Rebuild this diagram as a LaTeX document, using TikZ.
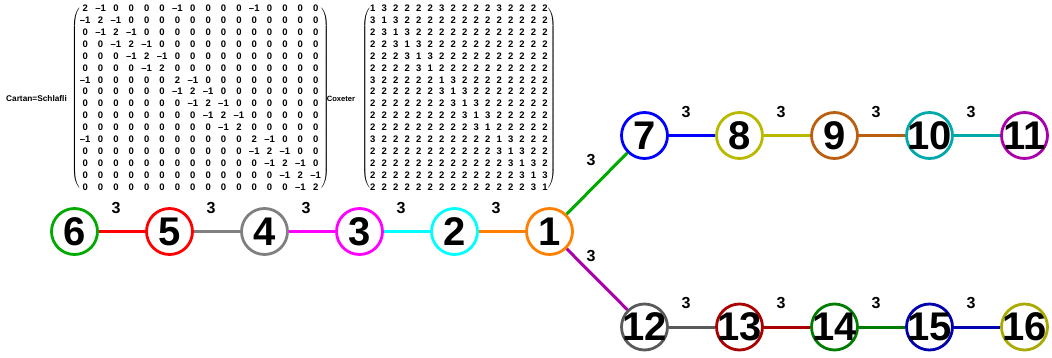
\documentclass[tikz,border=0pt]{standalone}
\usepackage{fontspec}
\setmainfont{Liberation Sans}

% ring colours of the sixteen vertices
\definecolor{c1}{RGB}{255,128,0}
\definecolor{c2}{RGB}{0,255,255}
\definecolor{c3}{RGB}{255,0,255}
\definecolor{c4}{RGB}{128,128,128}
\definecolor{c5}{RGB}{255,0,0}
\definecolor{c6}{RGB}{0,170,0}
\definecolor{c7}{RGB}{0,0,255}
\definecolor{c8}{RGB}{185,185,0}
\definecolor{c9}{RGB}{185,95,15}
\definecolor{c10}{RGB}{0,170,170}
\definecolor{c11}{RGB}{170,0,170}
\definecolor{c12}{RGB}{90,90,90}
\definecolor{c13}{RGB}{170,0,0}
\definecolor{c14}{RGB}{0,125,0}
\definecolor{c15}{RGB}{0,0,175}
\definecolor{c16}{RGB}{170,170,0}

\newcommand{\vnum}[1]{\makebox[0pt]{#1}}
\delimitershortfall=12pt

\tikzset{
	vert/.style = {draw=#1, circle, line width=2.8pt, minimum size=46pt, inner sep=0pt, fill=white,
		font=\fontsize{40}{40}\selectfont\bfseries},
	bond/.style = {draw=#1, line width=3pt},
	wt/.style   = {font=\fontsize{16}{16}\selectfont\bfseries, xshift=-6pt, yshift=23.5pt},
	mat/.style  = {inner sep=0pt, font=\fontsize{9.5}{11.9}\selectfont\bfseries},
	tag/.style  = {anchor=east, inner sep=0pt, font=\fontsize{#1}{#1}\selectfont\bfseries},
}

\begin{document}
\begin{tikzpicture}[x=1pt, y=-1pt, node distance=95pt]
	\useasboundingbox (0,0) rectangle (1052,358);

	% Cartan and Coxeter matrices
	\node[mat] (cartan) at (200.5,98.5) {\setlength\tabcolsep{2.4pt}$\left(\vcenter{\hbox{\begin{tabular}{@{}*{16}{c}@{}}
		2 & --1 & 0 & 0 & 0 & 0 & --1 & 0 & 0 & 0 & 0 & --1 & 0 & 0 & 0 & 0\\
		--1 & 2 & --1 & 0 & 0 & 0 & 0 & 0 & 0 & 0 & 0 & 0 & 0 & 0 & 0 & 0\\
		0 & --1 & 2 & --1 & 0 & 0 & 0 & 0 & 0 & 0 & 0 & 0 & 0 & 0 & 0 & 0\\
		0 & 0 & --1 & 2 & --1 & 0 & 0 & 0 & 0 & 0 & 0 & 0 & 0 & 0 & 0 & 0\\
		0 & 0 & 0 & --1 & 2 & --1 & 0 & 0 & 0 & 0 & 0 & 0 & 0 & 0 & 0 & 0\\
		0 & 0 & 0 & 0 & --1 & 2 & 0 & 0 & 0 & 0 & 0 & 0 & 0 & 0 & 0 & 0\\
		--1 & 0 & 0 & 0 & 0 & 0 & 2 & --1 & 0 & 0 & 0 & 0 & 0 & 0 & 0 & 0\\
		0 & 0 & 0 & 0 & 0 & 0 & --1 & 2 & --1 & 0 & 0 & 0 & 0 & 0 & 0 & 0\\
		0 & 0 & 0 & 0 & 0 & 0 & 0 & --1 & 2 & --1 & 0 & 0 & 0 & 0 & 0 & 0\\
		0 & 0 & 0 & 0 & 0 & 0 & 0 & 0 & --1 & 2 & --1 & 0 & 0 & 0 & 0 & 0\\
		0 & 0 & 0 & 0 & 0 & 0 & 0 & 0 & 0 & --1 & 2 & 0 & 0 & 0 & 0 & 0\\
		--1 & 0 & 0 & 0 & 0 & 0 & 0 & 0 & 0 & 0 & 0 & 2 & --1 & 0 & 0 & 0\\
		0 & 0 & 0 & 0 & 0 & 0 & 0 & 0 & 0 & 0 & 0 & --1 & 2 & --1 & 0 & 0\\
		0 & 0 & 0 & 0 & 0 & 0 & 0 & 0 & 0 & 0 & 0 & 0 & --1 & 2 & --1 & 0\\
		0 & 0 & 0 & 0 & 0 & 0 & 0 & 0 & 0 & 0 & 0 & 0 & 0 & --1 & 2 & --1\\
		0 & 0 & 0 & 0 & 0 & 0 & 0 & 0 & 0 & 0 & 0 & 0 & 0 & 0 & --1 & 2
	\end{tabular}}}\right)$};
	\node[mat] (coxeter) at (459,98.5) {\setlength\tabcolsep{3.1pt}$\left(\vcenter{\hbox{\begin{tabular}{@{}*{16}{c}@{}}
		1 & 3 & 2 & 2 & 2 & 2 & 3 & 2 & 2 & 2 & 2 & 3 & 2 & 2 & 2 & 2\\
		3 & 1 & 3 & 2 & 2 & 2 & 2 & 2 & 2 & 2 & 2 & 2 & 2 & 2 & 2 & 2\\
		2 & 3 & 1 & 3 & 2 & 2 & 2 & 2 & 2 & 2 & 2 & 2 & 2 & 2 & 2 & 2\\
		2 & 2 & 3 & 1 & 3 & 2 & 2 & 2 & 2 & 2 & 2 & 2 & 2 & 2 & 2 & 2\\
		2 & 2 & 2 & 3 & 1 & 3 & 2 & 2 & 2 & 2 & 2 & 2 & 2 & 2 & 2 & 2\\
		2 & 2 & 2 & 2 & 3 & 1 & 2 & 2 & 2 & 2 & 2 & 2 & 2 & 2 & 2 & 2\\
		3 & 2 & 2 & 2 & 2 & 2 & 1 & 3 & 2 & 2 & 2 & 2 & 2 & 2 & 2 & 2\\
		2 & 2 & 2 & 2 & 2 & 2 & 3 & 1 & 3 & 2 & 2 & 2 & 2 & 2 & 2 & 2\\
		2 & 2 & 2 & 2 & 2 & 2 & 2 & 3 & 1 & 3 & 2 & 2 & 2 & 2 & 2 & 2\\
		2 & 2 & 2 & 2 & 2 & 2 & 2 & 2 & 3 & 1 & 3 & 2 & 2 & 2 & 2 & 2\\
		2 & 2 & 2 & 2 & 2 & 2 & 2 & 2 & 2 & 3 & 1 & 2 & 2 & 2 & 2 & 2\\
		3 & 2 & 2 & 2 & 2 & 2 & 2 & 2 & 2 & 2 & 2 & 1 & 3 & 2 & 2 & 2\\
		2 & 2 & 2 & 2 & 2 & 2 & 2 & 2 & 2 & 2 & 2 & 3 & 1 & 3 & 2 & 2\\
		2 & 2 & 2 & 2 & 2 & 2 & 2 & 2 & 2 & 2 & 2 & 2 & 3 & 1 & 3 & 2\\
		2 & 2 & 2 & 2 & 2 & 2 & 2 & 2 & 2 & 2 & 2 & 2 & 2 & 3 & 1 & 3\\
		2 & 2 & 2 & 2 & 2 & 2 & 2 & 2 & 2 & 2 & 2 & 2 & 2 & 2 & 3 & 1
	\end{tabular}}}\right)$};
	\node[tag=8.3, xshift=-4pt] (cartanlbl) at (cartan.west) {Cartan=Schlafli};
	\node[tag=7.6, xshift=-6pt] (coxeterlbl) at (coxeter.west) {Coxeter};

	% Dynkin diagram: the long row, then the two branches
	\node[vert=c1] (n1) at (549.5,231.5) {\vnum{1}};
	\node[vert=c2, left of=n1] (n2) {\vnum{2}};
	\node[vert=c3, left of=n2] (n3) {\vnum{3}};
	\node[vert=c4, left of=n3] (n4) {\vnum{4}};
	\node[vert=c5, left of=n4] (n5) {\vnum{5}};
	\node[vert=c6, left of=n5] (n6) {\vnum{6}};

	\node[vert=c7, xshift=95pt, yshift=96pt] (n7) at (n1) {\vnum{7}};
	\node[vert=c8, right of=n7] (n8) {\vnum{8}};
	\node[vert=c9, right of=n8] (n9) {\vnum{9}};
	\node[vert=c10, right of=n9] (n10) {\vnum{10}};
	\node[vert=c11, right of=n10] (n11) {\vnum{11}};

	\node[vert=c12, xshift=95pt, yshift=-95.5pt] (n12) at (n1) {\vnum{12}};
	\node[vert=c13, right of=n12] (n13) {\vnum{13}};
	\node[vert=c14, right of=n13] (n14) {\vnum{14}};
	\node[vert=c15, right of=n14] (n15) {\vnum{15}};
	\node[vert=c16, right of=n15] (n16) {\vnum{16}};

	% bonds, each with its label
	\draw[bond=c5] (n6) -- node[wt] {3} (n5);
	\draw[bond=c4] (n5) -- node[wt] {3} (n4);
	\draw[bond=c3] (n4) -- node[wt] {3} (n3);
	\draw[bond=c2] (n3) -- node[wt] {3} (n2);
	\draw[bond=c1] (n2) -- node[wt] {3} (n1);
	\draw[bond=c6] (n1) -- node[wt] {3} (n7);
	\draw[bond=c11] (n1) -- node[wt] {3} (n12);
	\draw[bond=c7] (n7) -- node[wt] {3} (n8);
	\draw[bond=c8] (n8) -- node[wt] {3} (n9);
	\draw[bond=c9] (n9) -- node[wt] {3} (n10);
	\draw[bond=c10] (n10) -- node[wt] {3} (n11);
	\draw[bond=c12] (n12) -- node[wt] {3} (n13);
	\draw[bond=c13] (n13) -- node[wt] {3} (n14);
	\draw[bond=c14] (n14) -- node[wt] {3} (n15);
	\draw[bond=c15] (n15) -- node[wt] {3} (n16);
\end{tikzpicture}
\end{document}
